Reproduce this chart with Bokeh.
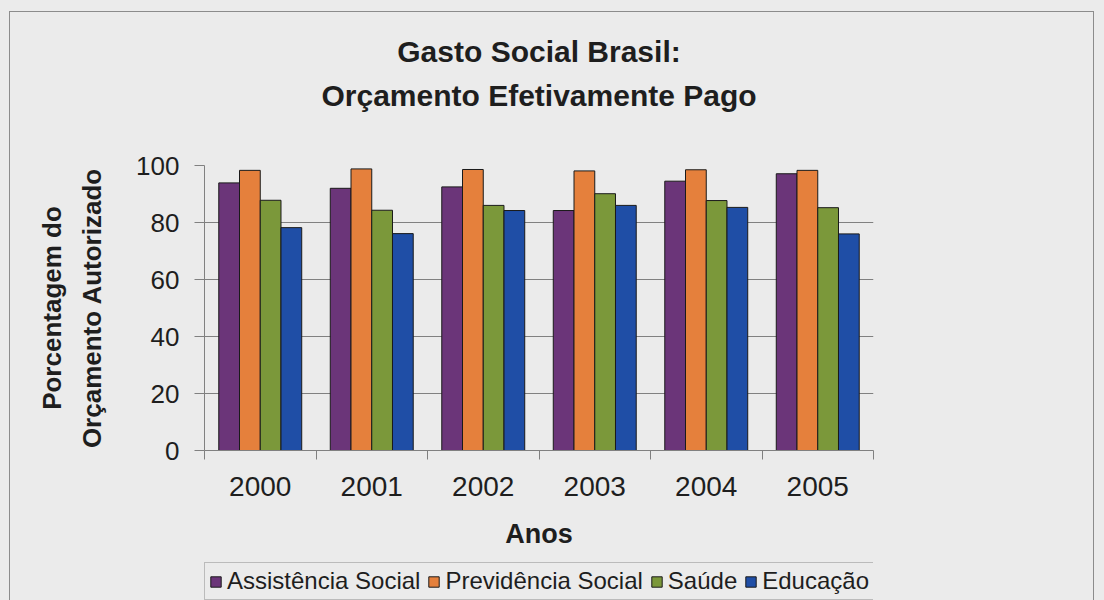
from bokeh.plotting import figure
from bokeh.models import (ColumnDataSource, Range1d, FixedTicker, Legend, LegendItem, Title)
from bokeh.layouts import column
from bokeh.transform import dodge
from bokeh.embed import file_html
from bokeh.resources import INLINE

years = ["2000", "2001", "2002", "2003", "2004", "2005"]
assistencia = [93.9, 92.0, 92.5, 84.2, 94.5, 97.1]
previdencia = [98.3, 98.8, 98.6, 98.1, 98.5, 98.3]
saude = [87.8, 84.3, 86.0, 90.1, 87.7, 85.2]
educacao = [78.2, 76.1, 84.2, 86.0, 85.3, 76.0]
series_names = ["Assistência Social", "Previdência Social", "Saúde", "Educação"]
y_ticks = [0, 20, 40, 60, 80, 100]

FONT = "Liberation Sans"
BG = "#ebebeb"
TXT = "#1e1e1e"
LINE = "#8c8c8c"
colors = ["#6b3579", "#e5803c", "#7b983a", "#1f4ea6"]
cols = ["a", "p", "s", "e"]

idx = list(range(len(years)))
source = ColumnDataSource(dict(idx=idx, a=assistencia, p=previdencia, s=saude, e=educacao))

g = f"linear-gradient({LINE},{LINE})"
frame_bg = (f"{g} 9px 11px / 1px 600px no-repeat, "
            f"{g} 9px 11px / 1085px 1px no-repeat, "
            f"{g} 1093px 11px / 1px 600px no-repeat, {BG}")
strip_bg = (f"{g} 9px 0px / 1px 100px no-repeat, "
            f"{g} 1093px 0px / 1px 100px no-repeat, {BG}")

p = figure(width=1104, height=562, output_backend="svg", toolbar_location=None,
           x_range=Range1d(-0.5, len(years) - 0.5), y_range=Range1d(0, 100),
           min_border_left=204, min_border_right=231, min_border_top=165, min_border_bottom=112)
p.background_fill_color = BG
p.border_fill_alpha = 0
p.outline_line_color = None
p.styles = {"background": frame_bg}

w = 0.186
offs = [-1.5 * w, -0.5 * w, 0.5 * w, 1.5 * w]
for col, off, c in zip(cols, offs, colors):
    p.vbar(x=dodge("idx", off, range=p.x_range), top=col, width=w, source=source,
           fill_color=c, line_color="#1a1a1a", line_width=1)

# axes
xa = p.xaxis[0]
xa.ticker = FixedTicker(ticks=idx, minor_ticks=[i - 0.5 for i in range(len(years) + 1)])
xa.major_label_overrides = {i: y for i, y in zip(idx, years)}
xa.major_tick_out = 0
xa.major_tick_in = 0
xa.minor_tick_out = 9
xa.minor_tick_in = 0
xa.minor_tick_line_color = "#808080"
xa.axis_line_color = "#808080"
xa.major_label_text_font = FONT
xa.major_label_text_font_size = "28px"
xa.major_label_text_color = TXT
xa.major_label_standoff = 17

ya = p.yaxis[0]
ya.ticker = FixedTicker(ticks=y_ticks, minor_ticks=[])
ya.major_tick_out = 10
ya.major_tick_in = 0
ya.major_tick_line_color = "#808080"
ya.axis_line_color = "#808080"
ya.major_label_text_font = FONT
ya.major_label_text_font_size = "26px"
ya.major_label_text_color = TXT
ya.major_label_standoff = 15

p.xgrid.visible = False
p.ygrid.ticker = FixedTicker(ticks=[20, 40, 60, 80])
p.ygrid.grid_line_color = "#808080"
p.ygrid.grid_line_width = 1


def mk_title(text, size, standoff, valign="bottom"):
    return Title(text=text, align="center", vertical_align=valign, text_font=FONT,
                 text_font_style="bold", text_font_size=size, text_color=TXT, standoff=standoff)


def spacer(standoff):
    return Title(text=" ", text_font=FONT, text_font_size="6px", standoff=standoff)


# above: panels stack outward from the plot frame
p.add_layout(spacer(44.4), "above")
p.add_layout(mk_title("Orçamento Efetivamente Pago", "30px", 4), "above")
p.add_layout(mk_title("Gasto Social Brasil:", "30px", 13.4), "above")
# left
p.add_layout(spacer(17.4), "left")
p.add_layout(mk_title("Orçamento Autorizado", "26px", 4), "left")
p.add_layout(mk_title("Porcentagem do", "26px", 10.6), "left")
# below
p.add_layout(spacer(11.8), "below")
p.add_layout(mk_title("Anos", "27px", 0, valign="top"), "below")

# legend strip (separate figure directly beneath the chart)
p2 = figure(width=1104, height=38, output_backend="svg", toolbar_location=None,
            x_axis_type=None, y_axis_type=None, x_range=Range1d(100, 101), y_range=Range1d(0, 1),
            min_border_left=204, min_border_right=231, min_border_top=0, min_border_bottom=0)
p2.background_fill_color = BG
p2.border_fill_alpha = 0
p2.outline_line_color = None
p2.grid.visible = False
p2.styles = {"background": strip_bg}

items = []
for name, col, c in zip(series_names, cols, colors):
    r = p2.vbar(x="idx", top=col, width=w, source=source, fill_color=c,
                line_color="#1a1a1a", line_width=1)
    items.append(LegendItem(label=name, renderers=[r]))

legend = Legend(items=items, orientation="horizontal", location="top_left")
legend.label_text_font = FONT
legend.label_text_font_size = "24px"
legend.label_text_color = TXT
legend.glyph_width = 13
legend.glyph_height = 13
legend.label_standoff = 5
legend.spacing = 7
legend.padding = 4
legend.margin = 0
legend.border_line_color = LINE
legend.background_fill_color = BG
legend.background_fill_alpha = 1
p2.add_layout(legend, "center")

root = column(p, p2, spacing=0)

open("out.html", "w").write(file_html(root, INLINE))
